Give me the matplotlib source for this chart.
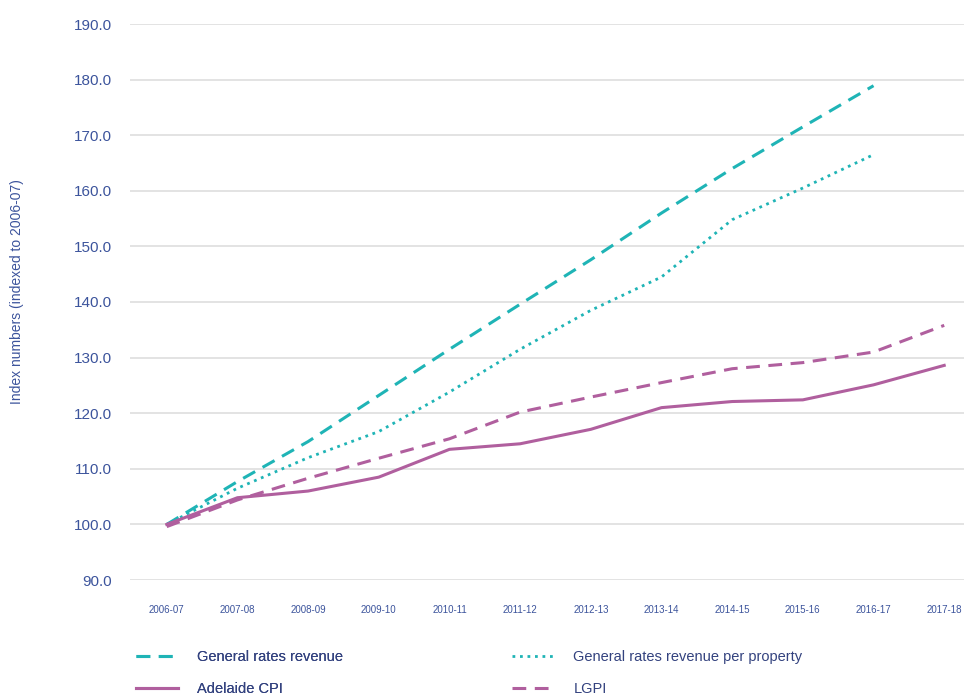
#!/usr/bin/env python3
"""General rates revenue vs price indices, indexed to 2006-07."""

import matplotlib.pyplot as plt

years = ["2006-07", "2007-08", "2008-09", "2009-10", "2010-11", "2011-12",
         "2012-13", "2013-14", "2014-15", "2015-16", "2016-17", "2017-18"]

rates_revenue = [100.0, 107.7, 114.9, 123.2, 131.5, 139.6,
                 147.6, 156.0, 164.0, 171.5, 178.9]
rates_per_property = [100.0, 106.5, 112.0, 116.7, 123.8, 131.5,
                      138.5, 144.5, 154.8, 160.5, 166.5]
adelaide_cpi = [100.0, 104.8, 106.0, 108.5, 113.5, 114.5,
                117.1, 121.0, 122.1, 122.4, 125.1, 128.6]
lgpi = [99.6, 104.4, 108.3, 111.9, 115.4, 120.2,
        122.9, 125.5, 128.0, 129.1, 131.0, 135.8]

yticks = [90, 100, 110, 120, 130, 140, 150, 160, 170, 180, 190]

TEAL = "#1fb4b6"
PURPLE = "#b05f9e"
TEXT = "#3c549c"
LEGEND_TEXT = "#33427f"
GRID = "#e0e0e0"

plt.rcParams["font.family"] = ["Liberation Sans", "DejaVu Sans"]


def main() -> None:
    fig = plt.figure(figsize=(9.64, 7.0), dpi=100)
    ax = fig.add_axes([130 / 964, 120 / 700, 834 / 964, 556 / 700])

    x = list(range(len(years)))
    ax.plot(x[: len(rates_revenue)], rates_revenue, color=TEAL, lw=2.2,
            linestyle=(0, (4.5, 2.8)), label="General rates revenue")
    ax.plot(x[: len(rates_per_property)], rates_per_property, color=TEAL, lw=2.0,
            linestyle=(0, (1, 1.7)), label="General rates revenue per property")
    ax.plot(x, adelaide_cpi, color=PURPLE, lw=2.2, label="Adelaide CPI")
    ax.plot(x, lgpi, color=PURPLE, lw=2.2, linestyle=(0, (4.5, 2.8)), label="LGPI")

    ax.set_xlim(-0.52, 11.28)
    ax.set_ylim(90, 190)
    ax.set_yticks(yticks)
    ax.set_yticklabels([f"{v:.1f}" for v in yticks])
    ax.set_xticks(x)
    ax.set_xticklabels(years)
    ax.tick_params(axis="y", length=0, pad=13, labelsize=11, labelcolor=TEXT)
    ax.tick_params(axis="x", length=0, pad=18, labelsize=7, labelcolor=TEXT)
    ax.grid(axis="y", color=GRID, lw=1.3)
    ax.set_axisbelow(True)
    for spine in ax.spines.values():
        spine.set_visible(False)

    fig.text(17 / 964, 0.583, "Index numbers (indexed to 2006-07)", rotation=90,
             ha="center", va="center", fontsize=10, color=TEXT)

    handles, labels = ax.get_legend_handles_labels()
    leg_kw = dict(frameon=False, fontsize=10.5, labelcolor=LEGEND_TEXT, handlelength=2.9,
                  handletextpad=1.3, labelspacing=1.25, loc="upper left")
    leg1 = fig.legend([handles[0], handles[2]], [labels[0], labels[2]],
                      bbox_to_anchor=(123 / 964, 1 - 637 / 700), **leg_kw)
    fig.add_artist(leg1)
    fig.legend([handles[1], handles[3]], [labels[1], labels[3]],
               bbox_to_anchor=(499 / 964, 1 - 637 / 700), **leg_kw)

    fig.savefig("out.png", dpi=100, facecolor="white")


if __name__ == "__main__":
    main()
